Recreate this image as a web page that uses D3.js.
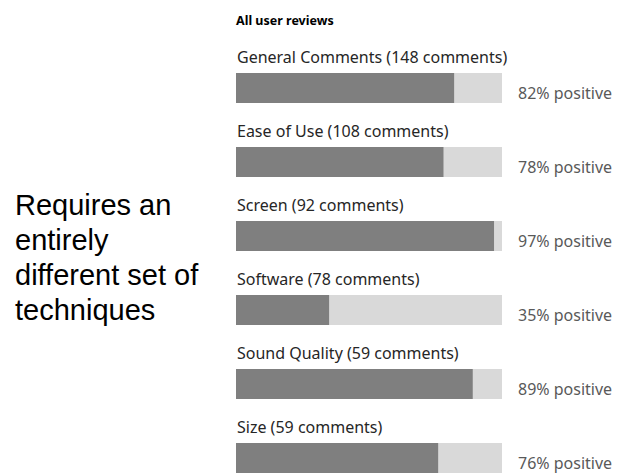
<!DOCTYPE html>
<html>
<head>
<meta charset="utf-8">
<script src="https://cdn.jsdelivr.net/npm/d3@7"></script>
<style>
  body { margin: 0; background: #fff; }
  svg { display: block; }
</style>
</head>
<body>
<div id="chart"></div>
<script>
// data
var categories = ["General Comments", "Ease of Use", "Screen", "Software", "Sound Quality", "Size"];
var comments = [148, 108, 92, 78, 59, 59];
var positive = [82, 78, 97, 35, 89, 76];
var title = "All user reviews";
var noteLines = ["Requires an", "entirely", "different set of", "techniques"];

var width = 618, height = 474;

var svg = d3.select("#chart").append("svg")
    .attr("width", width)
    .attr("height", height);

var x = d3.scaleLinear().domain([0, 100]).range([236, 502]);
var y = d3.scaleBand().domain(categories).range([73, 73 + 74 * categories.length]);
var barH = 30;

var rows = categories.map(function (c, i) {
    return { name: c, count: comments[i], pct: positive[i] };
});

// title
svg.append("text")
    .attr("x", 236)
    .attr("y", 25)
    .attr("font-family", "Noto Sans, sans-serif")
    .attr("font-size", 12.5)
    .attr("font-weight", "bold")
    .attr("fill", "#000")
    .text(title);

var g = svg.selectAll("g.row")
    .data(rows)
    .enter()
    .append("g")
    .attr("class", "row");

// background (full) bar
g.append("rect")
    .attr("x", x(0))
    .attr("y", function (d) { return y(d.name); })
    .attr("width", x(100) - x(0))
    .attr("height", barH)
    .attr("fill", "#d9d9d9");

// positive share
g.append("rect")
    .attr("x", x(0))
    .attr("y", function (d) { return y(d.name); })
    .attr("width", function (d) { return x(d.pct) - x(0); })
    .attr("height", barH)
    .attr("fill", "#7f7f7f");

// category label
g.append("text")
    .attr("x", 237)
    .attr("y", function (d) { return y(d.name) - 10; })
    .attr("font-family", "Noto Sans, sans-serif")
    .attr("font-size", 16)
    .attr("fill", "#262626")
    .text(function (d) { return d.name + " (" + d.count + " comments)"; });

// percent label
g.append("text")
    .attr("x", 518)
    .attr("y", function (d) { return y(d.name) + barH - 4; })
    .attr("font-family", "Noto Sans, sans-serif")
    .attr("font-size", 16)
    .attr("fill", "#595959")
    .text(function (d) { return d.pct + "% positive"; });

// side note
svg.append("text")
    .attr("font-family", "Liberation Sans, Arial, sans-serif")
    .attr("font-size", 29)
    .attr("fill", "#000")
    .selectAll("tspan")
    .data(noteLines)
    .enter()
    .append("tspan")
    .attr("x", 15)
    .attr("y", function (d, i) { return 215 + i * 35; })
    .text(function (d) { return d; });
</script>
</body>
</html>
